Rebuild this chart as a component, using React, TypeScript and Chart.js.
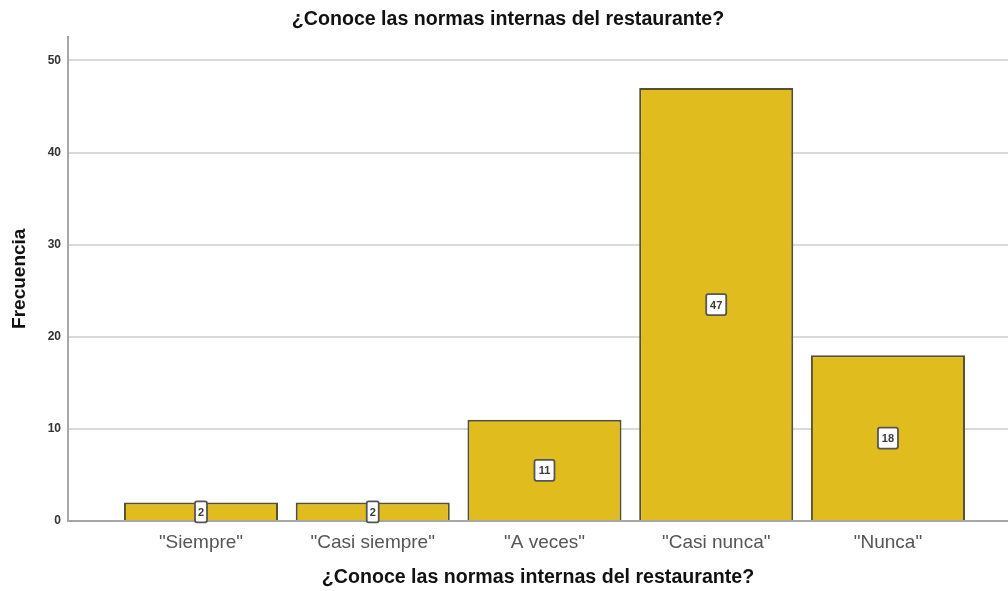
import React, { useEffect, useRef } from "react";
import { Chart, registerables } from "chart.js";

Chart.register(...registerables);

const categories = ['"Siempre"', '"Casi siempre"', '"A veces"', '"Casi nunca"', '"Nunca"'];
const positions = [1, 2, 3, 4, 5];
const frequencies = [2, 2, 11, 47, 18];
const yTicks = [0, 10, 20, 30, 40, 50];
const chartTitle = "¿Conoce las normas internas del restaurante?";
const xTitle = "¿Conoce las normas internas del restaurante?";
const yTitle = "Frecuencia";

const FONT = "'Liberation Sans', Arial, sans-serif";

const labelBoxes = {
  id: "labelBoxes",
  afterDatasetsDraw(chart: any) {
    const ctx = chart.ctx;
    const meta = chart.getDatasetMeta(0);
    const yScale = chart.scales.y;
    ctx.save();
    ctx.font = `bold 11px ${FONT}`;
    meta.data.forEach((bar: any, i: number) => {
      const v = frequencies[i];
      const text = String(v);
      const cx = bar.x;
      const cy = yScale.getPixelForValue(v / 2);
      const w = text.length > 1 ? 20 : 12;
      const h = 21;
      const x0 = cx - w / 2;
      const y0 = cy - h / 2;
      ctx.beginPath();
      if ((ctx as any).roundRect) (ctx as any).roundRect(x0, y0, w, h, 2);
      else ctx.rect(x0, y0, w, h);
      ctx.fillStyle = "#ffffff";
      ctx.fill();
      ctx.lineWidth = 1.8;
      ctx.strokeStyle = "#555555";
      ctx.stroke();
      ctx.fillStyle = "#3a3a3a";
      ctx.textAlign = "center";
      ctx.textBaseline = "middle";
      ctx.fillText(text, cx, cy + 1);
    });
    ctx.restore();
  },
};

export default function App() {
  const ref = useRef<HTMLCanvasElement | null>(null);

  useEffect(() => {
    if (!ref.current) return;
    const chart = new Chart(ref.current, {
      type: "bar",
      data: {
        datasets: [
          {
            label: "Frecuencia",
            data: positions.map((p, i) => ({ x: p, y: frequencies[i] })),
            backgroundColor: "#e1bc1f",
            borderColor: "#55502e",
            borderWidth: 2,
            categoryPercentage: 1,
            barPercentage: 0.897,
          },
        ],
      },
      plugins: [labelBoxes],
      options: {
        responsive: false,
        animation: false,
        layout: { padding: { left: 8, right: 0, top: 0, bottom: 0 } },
        plugins: {
          legend: { display: false },
          tooltip: { enabled: false },
          title: {
            display: true,
            text: chartTitle,
            color: "#111111",
            font: { family: FONT, size: 19.6, weight: "bold" },
            padding: { top: 8, bottom: 5 },
          },
        },
        scales: {
          x: {
            type: "linear",
            offset: false,
            min: 0.2256,
            max: 5.699,
            grid: { display: false, drawTicks: false },
            border: { display: true, color: "#a6a6a6", width: 2 },
            ticks: {
              stepSize: 1,
              color: "#555555",
              font: { family: FONT, size: 19 },
              padding: 10,
              maxRotation: 0,
              autoSkip: false,
              callback: (v: any) => {
                const idx = positions.indexOf(Number(v));
                return idx >= 0 ? categories[idx] : "";
              },
            },
            afterBuildTicks: (axis: any) => {
              axis.ticks = positions.map((p) => ({ value: p }));
            },
            afterFit: (scale: any) => {
              scale.height = 70;
            },
            title: {
              display: true,
              text: xTitle,
              color: "#111111",
              font: { family: FONT, size: 19.6, weight: "bold" },
              padding: { top: 0, bottom: 2 },
            },
          },
          y: {
            min: 0,
            max: 52.6,
            grid: { color: "#dadada", lineWidth: 2, drawTicks: false },
            border: { display: true, color: "#a6a6a6", width: 2 },
            ticks: {
              stepSize: 10,
              color: "#333333",
              font: { family: FONT, size: 12, weight: "bold" },
              padding: 7,
            },
            afterBuildTicks: (axis: any) => {
              axis.ticks = yTicks.map((t) => ({ value: t }));
            },
            afterFit: (scale: any) => {
              scale.width = 60;
            },
            title: {
              display: true,
              text: yTitle,
              color: "#111111",
              font: { family: FONT, size: 19, weight: "bold" },
              padding: { top: 0, bottom: 0 },
            },
          },
        },
      },
    });
    return () => chart.destroy();
  }, []);

  return (
    <div style={{ position: "fixed", left: 0, top: 0, width: 1008, height: 591, background: "#ffffff" }}>
      <canvas ref={ref} width={1008} height={591} />
    </div>
  );
}
